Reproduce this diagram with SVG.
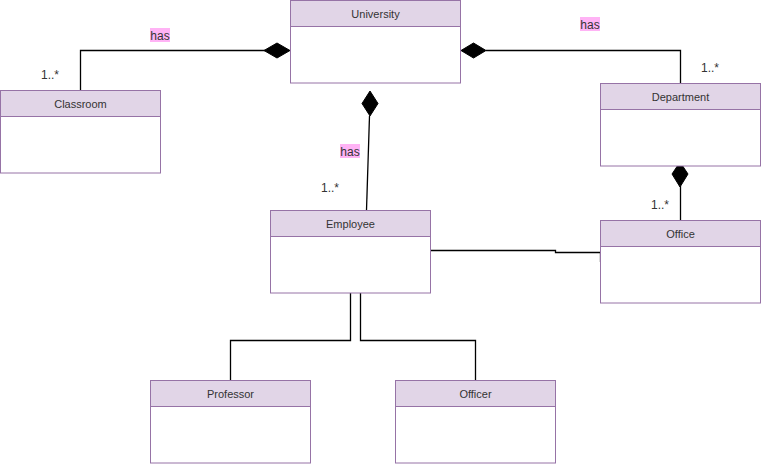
<svg xmlns="http://www.w3.org/2000/svg" width="762" height="465" viewBox="0 0 762 465">
<style>
.hd{fill:#e1d5e7;stroke:#9673a6;stroke-width:1}
.bd{fill:#ffffff;stroke:#9673a6;stroke-width:1}
.nm{font-family:"Liberation Sans",Arial,sans-serif;font-size:11px;fill:#333333;text-anchor:middle}
.ln{fill:none;stroke:#000000;stroke-width:1.3}
.dm{fill:#000000;stroke:#000000;stroke-width:1}
.lb{font-family:"Liberation Sans",Arial,sans-serif;font-size:12px;fill:#333333;text-anchor:middle}
.lbg{fill:#ffb3f5}
</style>
<rect width="762" height="465" fill="#ffffff"/>
<g id="connectors">
  <polyline class="ln" points="80.5,90 80.5,50.5 265,50.5"/>
  <polygon class="dm" points="290,50.5 277,43 264,50.5 277,58"/>
  <polyline class="ln" points="486,50.5 680.5,50.5 680.5,83"/>
  <polygon class="dm" points="461,50.5 473.5,43 486,50.5 473.5,58"/>
  <line class="ln" x1="680.5" y1="186" x2="680.5" y2="220"/>
  <polygon class="dm" points="680,162 688,174 680,187 672,174"/>
  <line class="ln" x1="369.5" y1="116" x2="366.5" y2="210"/>
  <polygon class="dm" points="370,91 378,103.5 370,116 362,103.5"/>
  <polyline class="ln" points="430,250.5 555.5,250.5 555.5,252.5 600.5,252.5"/>
  <line class="ln" x1="600.5" y1="252" x2="600.5" y2="262"/>
  <polyline class="ln" points="350.5,293 350.5,340.5 230.5,340.5 230.5,380"/>
  <polyline class="ln" points="360.5,293 360.5,340.5 475.5,340.5 475.5,380"/>
  <rect class="lbg" x="150" y="28" width="20" height="14"/>
  <text class="lb" x="160" y="39.5">has</text>
  <rect class="lbg" x="580" y="17" width="20" height="14"/>
  <text class="lb" x="590" y="28.5">has</text>
  <rect class="lbg" x="340" y="144" width="20" height="14"/>
  <text class="lb" x="350" y="155.5">has</text>
  <text class="lb" x="50" y="79">1..*</text>
  <text class="lb" x="710" y="72">1..*</text>
  <text class="lb" x="660" y="209">1..*</text>
  <text class="lb" x="330" y="192">1..*</text>
</g>
<g id="University">
  <rect class="bd" x="290.5" y="0.5" width="170" height="82.5"/>
  <rect class="hd" x="290.5" y="0.5" width="170" height="26"/>
  <text class="nm" x="375.5" y="18">University</text>
</g>
<g id="Classroom">
  <rect class="bd" x="0.5" y="90.5" width="160" height="82.5"/>
  <rect class="hd" x="0.5" y="90.5" width="160" height="26"/>
  <text class="nm" x="80.5" y="108">Classroom</text>
</g>
<g id="Department">
  <rect class="bd" x="600.5" y="83.5" width="160" height="82.5"/>
  <rect class="hd" x="600.5" y="83.5" width="160" height="26"/>
  <text class="nm" x="680.5" y="101">Department</text>
</g>
<g id="Office">
  <rect class="bd" x="600.5" y="220.5" width="160" height="82.5"/>
  <rect class="hd" x="600.5" y="220.5" width="160" height="26"/>
  <text class="nm" x="680.5" y="238">Office</text>
</g>
<g id="Employee">
  <rect class="bd" x="270.5" y="210.5" width="160" height="82.5"/>
  <rect class="hd" x="270.5" y="210.5" width="160" height="26"/>
  <text class="nm" x="350.5" y="228">Employee</text>
</g>
<g id="Professor">
  <rect class="bd" x="150.5" y="380.5" width="160" height="82.5"/>
  <rect class="hd" x="150.5" y="380.5" width="160" height="26"/>
  <text class="nm" x="230.5" y="398">Professor</text>
</g>
<g id="Officer">
  <rect class="bd" x="395.5" y="380.5" width="160" height="82.5"/>
  <rect class="hd" x="395.5" y="380.5" width="160" height="26"/>
  <text class="nm" x="475.5" y="398">Officer</text>
</g>
</svg>
